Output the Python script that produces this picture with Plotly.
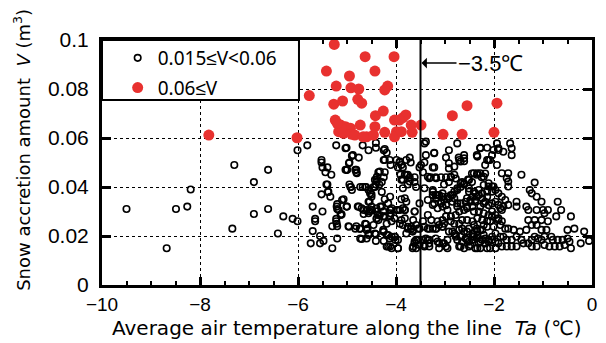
import plotly.graph_objects as go

# Open circles: 0.015 <= V < 0.06  (temperature degC, volume m3)
low_pts = [
(-9.50,0.031),(-8.68,0.015),(-8.49,0.031),(-8.26,0.032),(-8.19,0.039),(-7.30,0.049),(-6.90,0.042),(-6.61,0.047),
(-7.34,0.023),(-6.90,0.029),(-6.61,0.031),(-6.41,0.021),(-6.30,0.028),(-6.11,0.027),(-6.01,0.026),(-6.01,0.055),(-5.81,0.057),
(-5.22,0.057),(-5.52,0.051),(-5.52,0.050),(-5.50,0.048),(-5.40,0.048),(-5.44,0.046),(-5.32,0.045),(-5.03,0.047),(-5.40,0.041),
(-5.38,0.038),(-5.34,0.036),(-5.52,0.037),(-5.07,0.035),(-5.70,0.032),(-5.50,0.030),(-5.20,0.033),(-5.20,0.031),(-5.12,0.029),
(-5.65,0.027),(-5.65,0.026),(-5.22,0.027),(-5.22,0.026),(-5.30,0.024),(-5.20,0.024),(-5.70,0.022),(-5.55,0.020),(-5.48,0.018),
(-5.55,0.017),(-5.74,0.017),(-5.20,0.019),(-5.30,0.015),
(-5.01,0.056),(-4.68,0.057),(-4.56,0.055),(-4.41,0.058),(-4.41,0.056),(-4.25,0.055),(-4.25,0.051),(-4.88,0.053),(-4.76,0.052),
(-4.95,0.050),(-5.00,0.047),(-4.81,0.047),(-4.81,0.046),(-4.36,0.046),(-4.40,0.043),(-4.41,0.041),(-4.43,0.040),(-4.68,0.040),
(-4.61,0.040),(-4.50,0.037),(-4.50,0.036),(-5.00,0.032),(-4.76,0.032),(-4.54,0.034),(-4.50,0.032),(-4.32,0.032),(-4.54,0.030),
(-4.40,0.030),(-4.95,0.041),(-4.92,0.040),(-5.42,0.041),(-5.39,0.038),(-4.25,0.044),(-4.29,0.042),(-4.34,0.041),(-4.66,0.029),
(-5.21,0.032),(-5.11,0.0288),(-5.01,0.032),(-4.78,0.032),(-4.66,0.0306),(-4.56,0.0293),(-4.52,0.0306),(-4.40,0.0313),(-4.29,0.032),
(-4.37,0.0286),(-4.40,0.027),(-4.26,0.028),(-5.21,0.025),(-4.97,0.024),(-4.81,0.024),(-4.74,0.023),(-4.61,0.0248),(-4.58,0.023),
(-4.56,0.021),(-4.70,0.0188),(-4.60,0.019),(-4.41,0.0207),(-4.41,0.018),(-4.25,0.0218),(-4.25,0.018),
(-4.23,0.0555),(-4.19,0.054),(-4.23,0.051),(-4.13,0.051),(-4.11,0.049),(-4.23,0.046),(-3.99,0.051),(-3.93,0.050),(-3.96,0.048),
(-3.86,0.048),(-3.72,0.052),(-3.70,0.050),(-3.91,0.045),(-3.86,0.043),(-3.79,0.045),(-3.72,0.044),(-3.62,0.044),(-3.62,0.042),
(-3.59,0.040),(-3.49,0.049),(-3.52,0.048),(-3.45,0.046),(-3.42,0.050),(-3.39,0.0585),(-3.22,0.054),(-2.92,0.055),(-2.98,0.052),
(-3.22,0.048),(-3.29,0.044),(-3.19,0.044),(-3.08,0.044),(-2.98,0.044),(-2.88,0.044),(-3.02,0.041),(-2.92,0.042),(-2.78,0.0435),
(-2.72,0.052),(-2.61,0.053),(-2.61,0.0505),(-2.35,0.053),(-2.28,0.056),(-2.45,0.0455),(-2.35,0.045),(-2.25,0.044),(-2.18,0.0455),
(-2.11,0.051),(-2.14,0.056),(-2.65,0.042),(-2.53,0.043),(-2.45,0.042),(-3.42,0.0395),
(-3.25,0.038),(-3.19,0.0367),(-3.12,0.0367),(-3.05,0.036),(-2.95,0.036),(-2.85,0.0367),(-2.75,0.0388),(-2.68,0.040),(-2.61,0.041),
(-2.51,0.0394),(-2.41,0.038),(-2.35,0.036),(-2.24,0.0374),(-2.14,0.036),(-3.35,0.0347),(-3.22,0.0333),(-3.08,0.0333),(-2.98,0.0326),
(-2.85,0.034),(-2.75,0.032),(-2.68,0.0333),(-2.55,0.032),(-2.48,0.0347),(-2.38,0.034),(-2.28,0.032),(-2.18,0.034),(-2.11,0.0326),
(-3.89,0.035),(-3.79,0.034),(-3.86,0.0313),(-3.99,0.0306),(-4.09,0.0313),(-4.23,0.035),(-4.16,0.0333),
(-4.26,0.030),(-4.11,0.0306),(-4.11,0.0293),(-3.92,0.0306),(-3.82,0.0306),(-3.62,0.030),(-4.23,0.028),(-4.03,0.0272),(-3.82,0.0272),
(-3.92,0.025),(-3.86,0.0245),(-3.76,0.0238),(-3.69,0.023),(-3.66,0.0218),(-3.79,0.021),(-4.26,0.0225),(-4.19,0.0204),(-4.13,0.019),
(-4.03,0.0197),(-4.01,0.0184),(-4.16,0.0157),(-4.09,0.015),(-3.96,0.015),(-3.66,0.015),(-3.62,0.017),(-3.59,0.0184),(-3.52,0.023),
(-3.45,0.026),(-3.45,0.0184),(-3.42,0.0163),(-3.35,0.0184),(-3.32,0.017),(-3.32,0.023),(-3.25,0.023),(-3.19,0.023),(-3.12,0.0245),
(-3.05,0.0238),(-3.19,0.019),(-3.12,0.017),(-3.02,0.017),(-2.95,0.015),(-3.12,0.015),(-3.02,0.025),(-2.88,0.028),(-2.78,0.0286),
(-2.71,0.030),(-2.85,0.0218),(-2.78,0.0204),(-2.68,0.0197),(-2.61,0.0218),(-2.51,0.023),(-2.41,0.0245),(-2.35,0.023),(-2.28,0.0225),
(-2.21,0.0245),(-2.14,0.026),(-2.41,0.0204),(-2.35,0.019),(-2.28,0.0177),(-2.18,0.019),(-2.11,0.0177),(-2.71,0.0157),(-2.61,0.015),
(-2.48,0.0163),(-2.38,0.015),(-2.28,0.015),(-2.14,0.015),(-2.65,0.0177),(-2.55,0.0184),
(-1.94,0.0578),(-1.91,0.0558),(-1.81,0.0544),(-1.67,0.0578),(-1.64,0.0558),(-1.64,0.053),(-1.94,0.049),(-1.84,0.0456),(-1.71,0.0456),
(-1.74,0.0436),(-1.71,0.0422),(-1.71,0.0402),(-1.44,0.045),(-1.17,0.0418),(-1.27,0.0388),(-1.23,0.0374),(-1.13,0.036),(-1.03,0.034),
(-1.54,0.034),(-1.54,0.032),(-1.34,0.032),(-1.30,0.0306),(-1.13,0.0306),(-1.00,0.0306),(-0.97,0.0293),(-0.90,0.0306),(-0.70,0.034),
(-0.63,0.0306),(-0.73,0.028),(-0.43,0.028),(-0.90,0.026),(-1.03,0.0265),(-1.17,0.0265),(-1.30,0.0265),(-1.23,0.0245),(-1.13,0.0245),
(-1.03,0.0225),(-0.93,0.0225),(-1.34,0.0225),(-1.47,0.0218),(-1.54,0.0197),(-1.44,0.0184),(-1.64,0.0184),(-1.74,0.0184),(-1.81,0.0197),
(-1.60,0.0225),(-1.71,0.023),(-1.84,0.026),(-1.91,0.0272),(-1.97,0.0286),(-2.04,0.030),(-0.50,0.0225),(-0.36,0.023),(-0.16,0.0218),
(-0.23,0.017),(-0.06,0.018),(-0.46,0.0177),(-0.50,0.019),(-0.56,0.0163),(-0.66,0.0157),(-0.76,0.0157),(-0.87,0.0157),(-0.97,0.0163),
(-1.03,0.0184),(-1.13,0.0157),(-1.23,0.0157),(-1.30,0.017),(-1.40,0.017),(-1.54,0.0157),(-1.64,0.0157),(-1.74,0.0157),(-1.84,0.0157),
(-1.91,0.017),(-1.97,0.0177),(-2.04,0.0184),(-2.08,0.015),(-1.97,0.015),(-0.43,0.015),(-1.17,0.0197),(-1.23,0.0184),(-1.10,0.019),
(-0.83,0.0197),(-0.70,0.0184),(-0.60,0.0184),(-0.80,0.0184),(-0.97,0.0197),(-1.81,0.032),(-1.71,0.0327),(-1.77,0.0347),(-1.84,0.036),
(-1.91,0.0374),(-1.97,0.0388),(-2.04,0.0402),(-2.11,0.0415),
(-5.03,0.0558),(-4.96,0.0497),(-4.90,0.0527),(-5.00,0.047),(-4.83,0.047),(-4.80,0.0456),(-5.10,0.0347),(-5.17,0.0306),(-5.13,0.0286),
(-4.96,0.0238),(-4.83,0.023),(-4.73,0.023),(-4.73,0.019),(-4.63,0.025),(-4.60,0.0225),(-4.56,0.0204),(-4.46,0.0245),(-4.43,0.021),
(-4.39,0.0272),(-4.36,0.0265),(-4.33,0.0286),(-4.49,0.0306),(-4.60,0.0306),(-4.70,0.0313),(-4.93,0.040),(-4.90,0.0388),(-4.73,0.040),
(-4.63,0.040),(-4.56,0.0388),(-4.53,0.0374),(-4.46,0.040),(-4.39,0.0422),(-4.33,0.0463),(-4.39,0.0442),(-4.43,0.0429),(-4.29,0.038),
(-4.56,0.034),(-4.12,0.036),(-4.12,0.0306),(-4.12,0.028),(-4.09,0.026),(-4.19,0.025),(-4.26,0.0218),(-4.16,0.0204),(-4.09,0.0197),
(-4.02,0.0197),(-3.96,0.0184),(-4.19,0.0157),(-4.12,0.0157),(-3.96,0.015),(-3.92,0.0504),(-3.89,0.049),(-3.79,0.051),(-3.76,0.045),
(-3.82,0.045),(-3.89,0.043),(-3.86,0.0395),(-3.76,0.041),(-3.72,0.0422),(-3.82,0.0354),(-3.96,0.0306),(-3.82,0.0306),(-3.65,0.0265),
(-3.89,0.0265),(-3.76,0.023),(-3.69,0.0238),(-3.59,0.0245),(-3.65,0.0225),(-3.55,0.023),(-3.55,0.0184),(-3.62,0.0177),(-3.65,0.0157),
(-3.59,0.015),(-3.52,0.0163),(-3.62,0.030),(-3.52,0.0333),
(-3.42,0.0578),(-3.39,0.053),(-3.25,0.048),(-3.22,0.0538),(-3.35,0.0442),(-3.32,0.0436),(-3.18,0.0436),(-2.88,0.0442),(-2.81,0.045),
(-2.92,0.0497),(-2.92,0.0476),(-2.75,0.0578),(-2.71,0.051),(-2.61,0.0517),(-2.68,0.0504),(-2.81,0.0483),(-2.28,0.0558),(-2.34,0.0524),
(-2.14,0.051),(-2.08,0.051),(-2.04,0.053),(-2.01,0.0551),(-1.91,0.0551),(-2.18,0.049),(-2.41,0.0456),(-2.34,0.0456),(-2.28,0.0456),
(-2.21,0.0442),(-2.51,0.0429),(-2.61,0.0415),(-2.68,0.0415),(-2.75,0.0395),(-2.81,0.0381),(-2.88,0.0367),(-3.05,0.0374),(-3.15,0.0367),
(-3.25,0.0388),(-3.25,0.0367),(-3.18,0.0354),(-3.08,0.034),(-3.02,0.0347),(-3.25,0.0327),(-3.15,0.0313),(-3.05,0.032),(-2.95,0.0306),
(-2.92,0.0354),(-2.81,0.0354),(-2.75,0.0333),(-2.61,0.0306),(-2.55,0.0313),(-2.44,0.032),(-2.38,0.0347),(-2.31,0.0367),(-2.24,0.0354),
(-2.21,0.0333),(-2.04,0.0333),(-1.97,0.034),(-1.91,0.0327),(-1.87,0.0313),(-1.84,0.0306),(-2.44,0.036),(-2.38,0.0374),(-2.31,0.0388),
(-2.14,0.0381),(-2.04,0.0381),(-2.01,0.0402),(-2.11,0.0402),(-2.21,0.0408),(-2.51,0.0381),(-2.55,0.0354),(-2.58,0.034),(-2.48,0.034),
(-2.41,0.030),(-2.31,0.030),(-2.21,0.0293),(-2.11,0.0286),(-2.04,0.028),(-1.91,0.0265),(-2.24,0.0265),(-2.34,0.0272),(-2.44,0.026),
(-2.55,0.0265),(-2.65,0.0265),(-2.71,0.025),(-2.81,0.025),(-2.88,0.026),(-2.98,0.028),(-3.05,0.0265),(-3.15,0.026),(-3.28,0.0265),
(-3.35,0.0286),(-3.42,0.0238),(-3.35,0.023),(-3.18,0.023),(-3.05,0.0238),(-2.92,0.0218),(-2.81,0.021),(-2.71,0.0225),(-2.65,0.023),
(-2.55,0.0218),(-2.44,0.021),(-2.34,0.0218),(-2.24,0.0225),(-2.14,0.0238),(-2.08,0.026),(-2.01,0.0238),(-1.87,0.0245),(-1.77,0.023),
(-3.39,0.019),(-3.32,0.0184),(-3.42,0.0157),(-3.32,0.0157),(-3.15,0.0177),(-3.05,0.017),(-2.98,0.0157),(-2.95,0.0184),(-2.78,0.0197),
(-2.75,0.0184),(-2.68,0.0157),(-2.58,0.019),(-2.51,0.0177),(-2.51,0.0157),(-2.44,0.0184),(-2.34,0.015),(-2.31,0.017),(-2.24,0.0184),
(-2.18,0.017),(-2.11,0.0184),(-2.04,0.0197),(-1.97,0.021),(-1.87,0.0197),(-2.41,0.0197),(-2.34,0.0204),(-2.21,0.0204),
]

# Filled red: V >= 0.06
high_pts = [
(-5.26,0.0982),(-4.63,0.0932),(-4.04,0.0932),(-5.42,0.0873),(-4.95,0.0853),(-4.43,0.0873),(-5.22,0.0812),(-4.92,0.0805),
(-4.76,0.0800),(-4.17,0.0812),(-4.23,0.0796),(-5.77,0.0773),(-5.27,0.0738),(-5.09,0.0751),(-4.78,0.0758),(-4.70,0.0742),
(-4.26,0.0710),(-4.42,0.0691),(-5.24,0.0673),(-5.13,0.0653),(-5.03,0.0646),(-4.93,0.0640),(-5.17,0.0626),(-5.07,0.0619),
(-4.90,0.0615),(-4.73,0.0653),(-4.43,0.0646),(-4.60,0.0605),(-4.46,0.0612),(-4.23,0.0623),(-4.03,0.0673),(-3.86,0.0683),
(-3.99,0.0626),(-4.03,0.0605),(-6.02,0.0601),(-7.82,0.0612),(-3.80,0.0694),(-3.93,0.0673),(-3.69,0.0653),(-3.67,0.0623),
(-3.89,0.0626),(-3.49,0.0653),(-2.85,0.0691),(-2.55,0.0732),(-3.04,0.0615),(-2.65,0.0615),(-1.94,0.0742),(-2.00,0.0623),
(-5.12,0.0640),(-4.84,0.0612),(-4.67,0.0605),(-5.20,0.0660),
]

low_x = [p[0] for p in low_pts]
low_y = [p[1] for p in low_pts]
high_x = [p[0] for p in high_pts]
high_y = [p[1] for p in high_pts]

x_ticks = [-10, -8, -6, -4, -2, 0]
x_tick_text = ["\u221210", "\u22128", "\u22126", "\u22124", "\u22122", "0"]
y_ticks = [0, 0.02, 0.04, 0.06, 0.08, 0.1]
y_tick_text = ["0", "0.02", "0.04", "0.06", "0.08", "0.1"]
threshold_t = -3.5

RED = "#E8312F"
tick_family = "Liberation Sans Narrow, Liberation Sans, Arial, sans-serif"
title_font = dict(family="DejaVu Sans, sans-serif", size=20, color="black")

fig = go.Figure()
fig.add_trace(go.Scatter(
    x=low_x, y=low_y, mode="markers", name="0.015\u2264V<0.06",
    marker=dict(symbol="circle-open", size=6.5, color="black", line=dict(width=1.6, color="black")),
    legendgroup="a",
))
fig.add_trace(go.Scatter(
    x=high_x, y=high_y, mode="markers", name="0.06\u2264V",
    marker=dict(symbol="circle", size=11, color=RED, line=dict(width=0)),
    legendgroup="b",
))

fig.add_vline(x=threshold_t, line=dict(color="black", width=2))

# legend box
fig.add_shape(type="rect", xref="paper", yref="paper", x0=0, x1=0.402, y0=0.755, y1=1,
              line=dict(color="black", width=2), fillcolor="white", layer="above")

fig.add_annotation(x=threshold_t, y=0.0906, xref="x", yref="y", text="\u22123.5\u2103",
                   showarrow=True, ax=70, ay=0, arrowhead=1, arrowsize=1.2, arrowwidth=1.5,
                   arrowcolor="black", xanchor="center", standoff=1,
                   font=dict(family=tick_family, size=22, color="black"))

fig.add_annotation(xref="paper", yref="paper", x=0.501, y=-0.175,
                   text="Average air temperature along the line  <i>Ta</i> (\u2103)",
                   showarrow=False, font=title_font, xanchor="center", yanchor="middle")
fig.add_annotation(xref="paper", yref="paper", x=-0.162, y=0.55,
                   text="Snow accretion amount  <i>V</i> (m<sup>3</sup>)", textangle=-90,
                   showarrow=False, font=dict(family="DejaVu Sans, sans-serif", size=18, color="black"),
                   xanchor="center", yanchor="middle")

axis_common = dict(showline=True, linecolor="black", linewidth=3, mirror="allticks",
                   ticks="inside", tickcolor="black", showgrid=True, gridcolor="black",
                   gridwidth=1, griddash="3px,3px", zeroline=False)

fig.update_xaxes(range=[-10, 0], tickvals=x_ticks, ticktext=x_tick_text, ticklen=8, tickwidth=3,
                 ticklabelstandoff=0, tickfont=dict(family=tick_family, size=19, color="black"),
                 minor=dict(dtick=0.5, tick0=0, ticks="inside", ticklen=4, tickwidth=2, tickcolor="black", showgrid=False),
                 **axis_common)
fig.update_yaxes(range=[0, 0.1], tickvals=y_ticks, ticktext=y_tick_text, ticklen=9, tickwidth=3,
                 ticklabelstandoff=6, tickfont=dict(family=tick_family, size=21, color="black"),
                 **axis_common)

fig.update_layout(
    width=606, height=343,
    margin=dict(l=102, r=9, t=40, b=58),
    paper_bgcolor="white", plot_bgcolor="white",
    showlegend=True,
    legend=dict(x=0.032, y=1.004, xanchor="left", yanchor="top", bgcolor="rgba(0,0,0,0)",
                borderwidth=0, font=dict(family="Noto Sans, sans-serif", size=19, color="black"),
                tracegroupgap=2, itemsizing="trace"),
)

fig.write_html("out.html")
